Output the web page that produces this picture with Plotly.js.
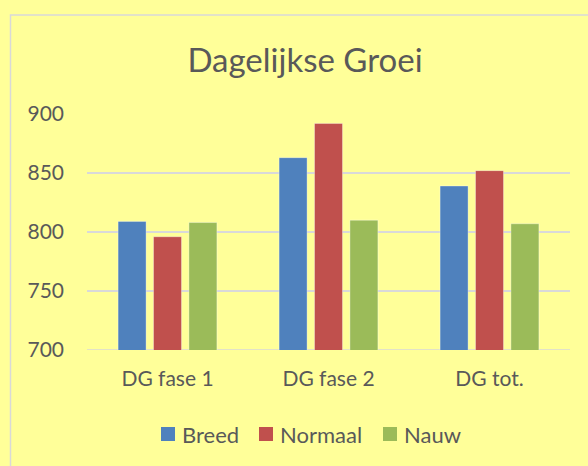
<!DOCTYPE html>
<html>
<head>
<meta charset="utf-8">
<script src="https://cdn.plot.ly/plotly-3.0.1.min.js"></script>
<style>html,body{margin:0;padding:0;background:#FFFF99;}#chart{width:588px;height:466px;}</style>
</head>
<body>
<div id="chart"></div>
<script>
var categories = ["DG fase 1", "DG fase 2", "DG tot."];
var seriesNames = ["Breed", "Normaal", "Nauw"];
var breed = [809, 863, 839];
var normaal = [796, 892, 852];
var nauw = [808, 810, 807];
var tickValues = [700, 750, 800, 850, 900];
var colors = ["#4F81BD", "#C0504D", "#9BBB59"];
var values = [breed, normaal, nauw];

var W = 588, H = 466;
var m = {l: 87, r: 18, t: 114, b: 116};
var pw = W - m.l - m.r, ph = H - m.t - m.b;
function px(x){return (x - m.l)/pw;}
function py(y){return (H - m.b - y)/ph;}

var traces = seriesNames.map(function(n, i){
  return {
    type: "bar", name: n, x: categories, y: values[i],
    marker: {color: colors[i], line: {color: "rgba(255,255,255,0.35)", width: 1}},
    hoverinfo: "y+name", showlegend: false
  };
});

var fontFam = "Lato, sans-serif";
var txt = "#595959";

var shapes = [
  {type: "rect", xref: "paper", yref: "paper", x0: px(10.5), x1: px(640), y0: py(15), y1: py(520),
   line: {color: "#D9D9D9", width: 1.5}, fillcolor: "rgba(0,0,0,0)", layer: "below"},
  {type: "line", xref: "paper", yref: "y", x0: 0, x1: 1, y0: 700, y1: 700,
   line: {color: "#D9D9D9", width: 1.5}, layer: "below"}
];
var annotations = [];

// custom legend (swatch + label), laid out from the series names
var legendSwatchX = [161, 259, 383];
seriesNames.forEach(function(n, i){
  var sx = legendSwatchX[i];
  shapes.push({type: "rect", xref: "paper", yref: "paper", x0: px(sx), x1: px(sx + 14),
    y0: py(441), y1: py(427), fillcolor: colors[i], line: {width: 0}});
  annotations.push({xref: "paper", yref: "paper", x: px(sx + 19), y: py(434), xanchor: "left",
    yanchor: "middle", showarrow: false, text: n, font: {size: 22, color: txt, family: fontFam}});
});

var layout = {
  width: W, height: H,
  margin: m,
  paper_bgcolor: "#FFFF99",
  plot_bgcolor: "#FFFF99",
  font: {family: fontFam, color: txt},
  title: {text: "Dagelijkse Groei", font: {size: 33, color: txt, family: fontFam},
          x: 305/W, xref: "container", xanchor: "center", y: 1 - 60/H, yref: "container", yanchor: "middle"},
  barmode: "group",
  bargap: 0.34,
  bargroupgap: 0.21,
  xaxis: {showgrid: false, showline: false, zeroline: false, ticks: "",
          tickfont: {size: 21, color: txt}, ticklabelstandoff: 14},
  yaxis: {range: [700, 900], tickvals: tickValues, showgrid: true, gridcolor: "#D9D9D9", gridwidth: 1.5,
          zeroline: false, showline: false, ticks: "", tickfont: {size: 21, color: txt},
          ticklabelstandoff: 22},
  showlegend: false,
  shapes: shapes,
  annotations: annotations
};

Plotly.newPlot("chart", traces, layout, {displayModeBar: false, staticPlot: true});
</script>
</body>
</html>
